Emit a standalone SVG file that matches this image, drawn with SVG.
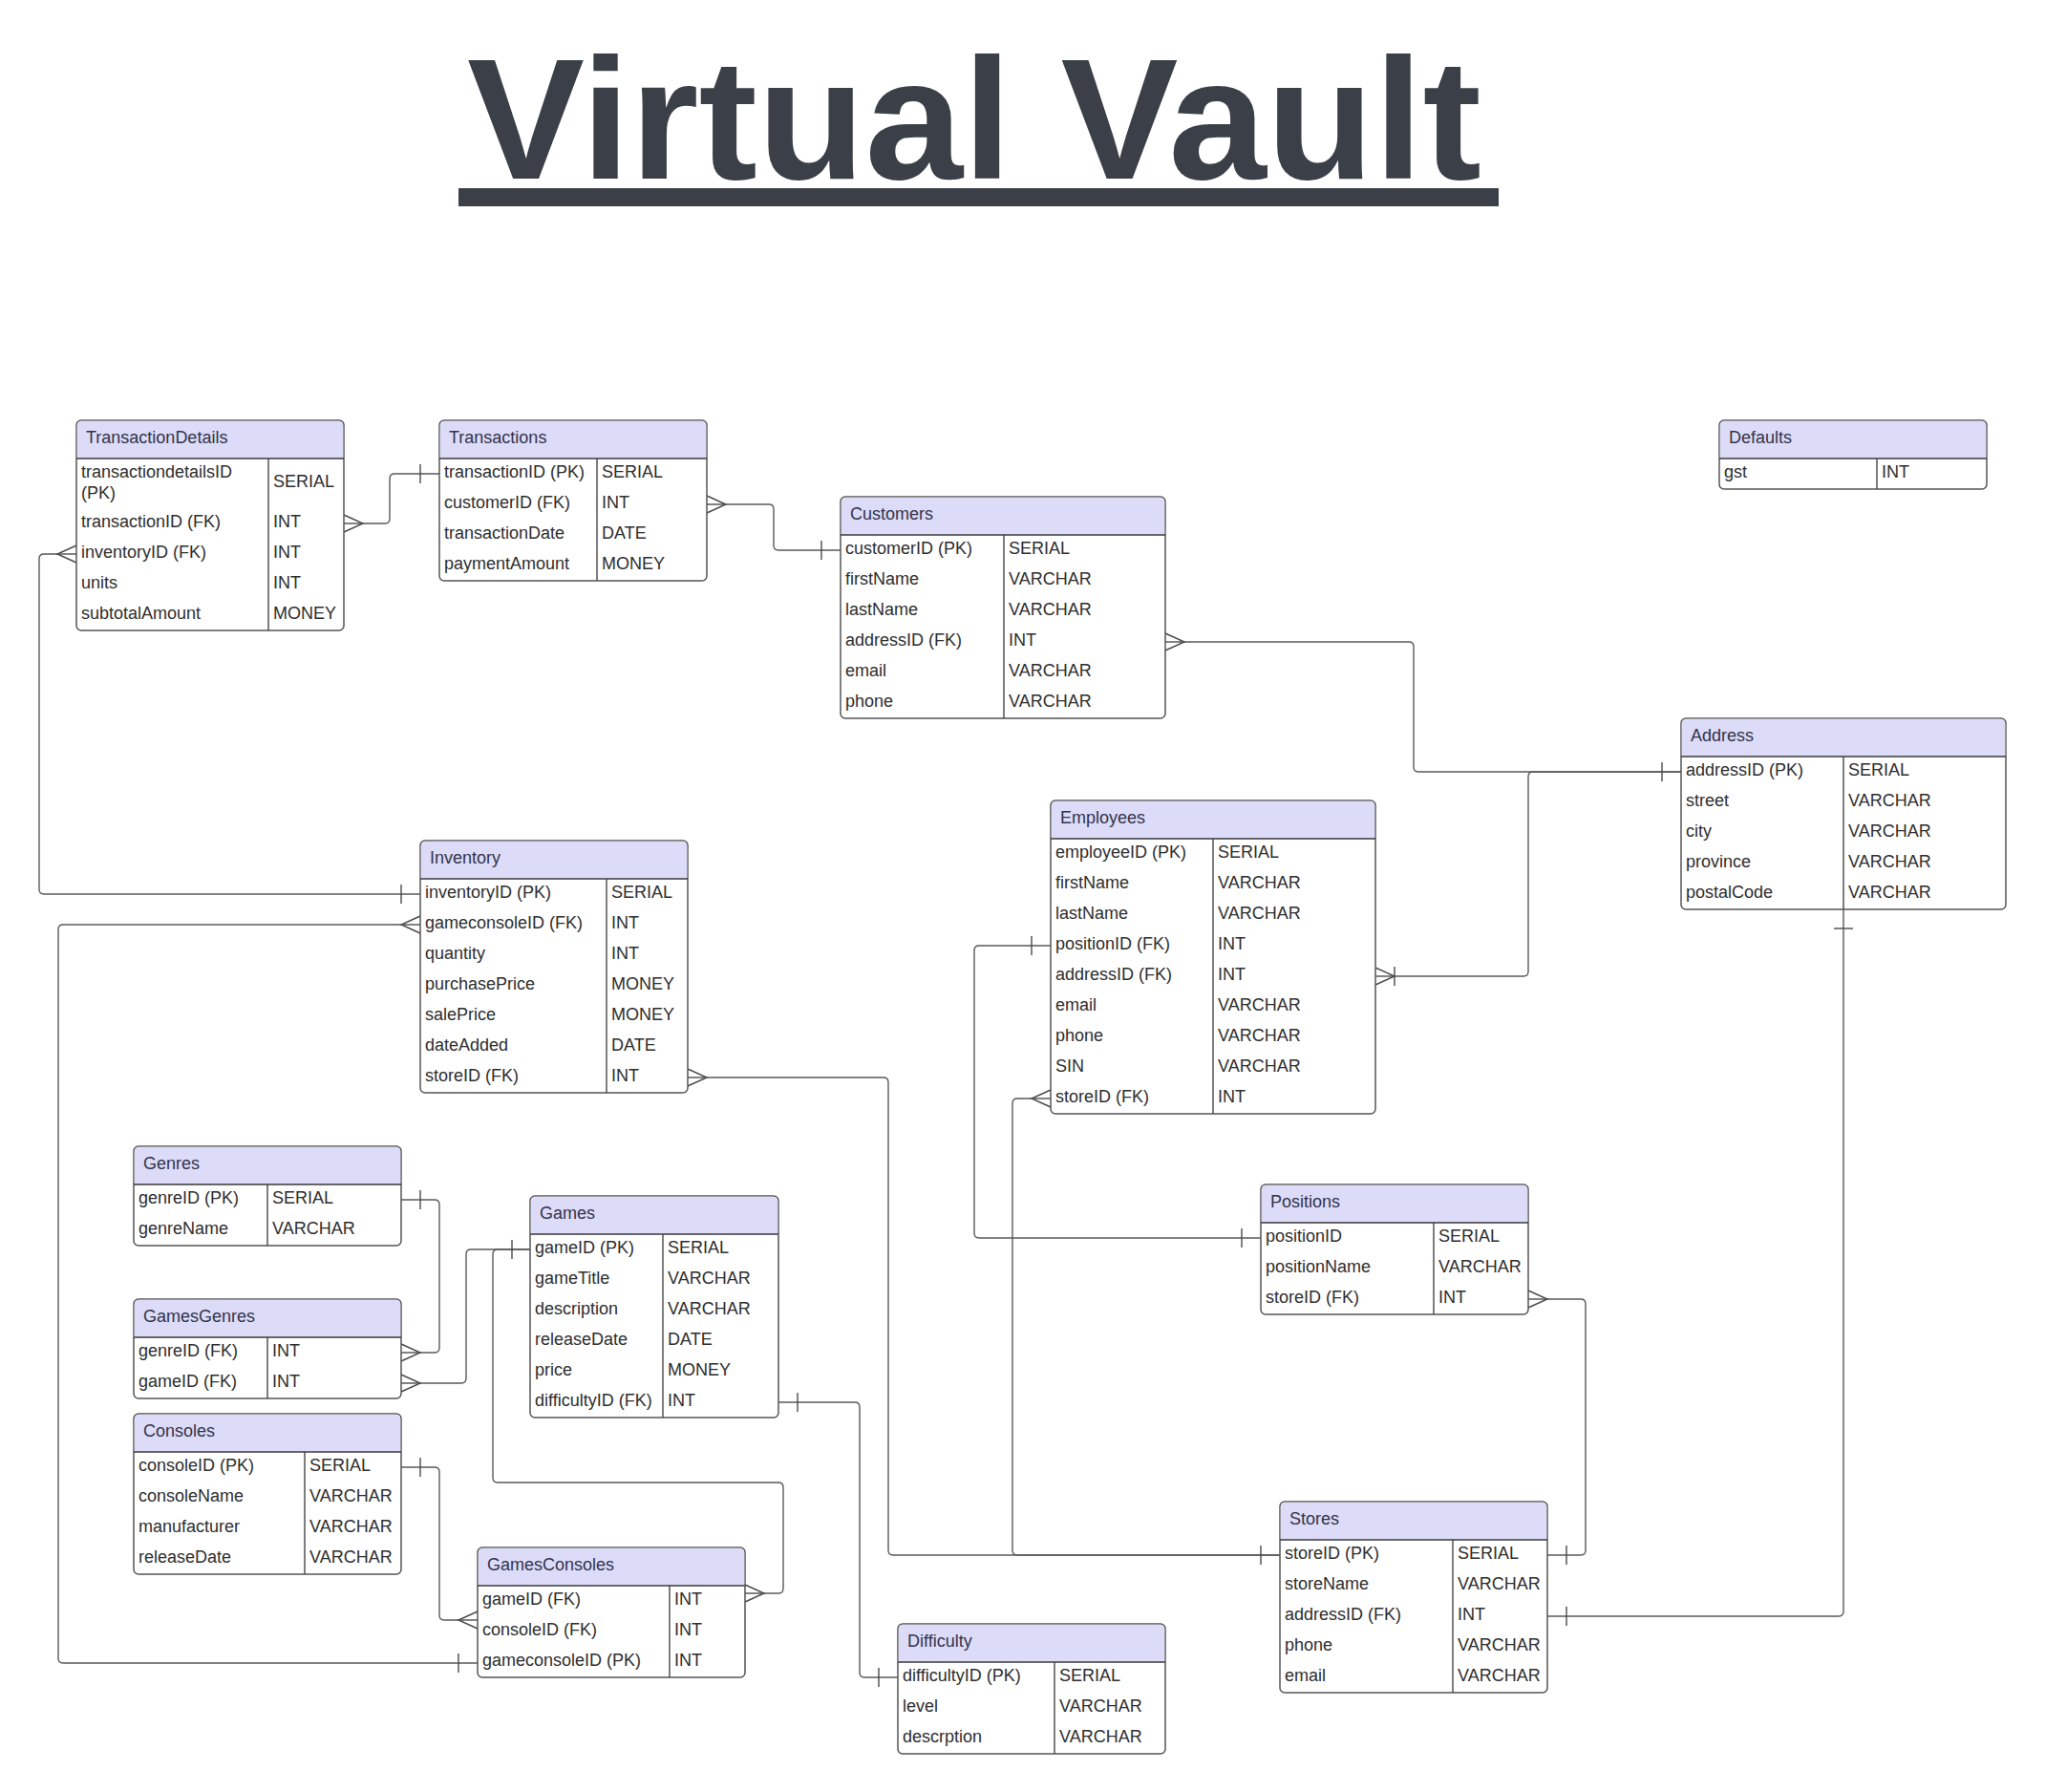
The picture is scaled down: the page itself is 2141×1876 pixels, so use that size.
<svg xmlns="http://www.w3.org/2000/svg" xmlns:xlink="http://www.w3.org/1999/xlink" width="2141" height="1876" viewBox="0 0 2141 1876">
<style>
.bx{fill:#fff;stroke:#555;stroke-width:1.5}
.hd{fill:#dcdcf9}
.sp{fill:none;stroke:#3a3a3a;stroke-width:1.3}
.t{font-family:"Liberation Sans",Arial,sans-serif;font-size:18px;fill:#2e2e2e}
.h{font-family:"Liberation Sans",Arial,sans-serif;font-size:18px;fill:#33334a}
.cn{fill:none;stroke:#5a5a5a;stroke-width:1.4}
.mk{fill:none;stroke:#4a4a4a;stroke-width:1.4}
</style>
<defs>
<path id="crow" d="M0,-9L20,0L0,9"/>
<path id="bar" d="M0,-10V10"/>
</defs>
<rect width="2141" height="1876" fill="#fff"/>
<g id="title">
<text x="489" y="187" textLength="1062" lengthAdjust="spacingAndGlyphs" style="font-family:'Liberation Sans',Arial,sans-serif;font-size:180px;font-weight:bold;fill:#3b3f48">Virtual Vault</text>
<rect x="480" y="197" width="1089" height="19" fill="#3b3f48"/>
</g>
<g id="connectors">
<path class="cn" d="M360,548H403Q408,548 408,543V501Q408,496 413,496H460"/>
<path class="cn" d="M740,528H805Q810,528 810,533V571Q810,576 815,576H880"/>
<path class="cn" d="M1220,672H1475Q1480,672 1480,677V803Q1480,808 1485,808H1760"/>
<path class="cn" d="M1440,1022H1595Q1600,1022 1600,1017V813Q1600,808 1605,808H1760"/>
<path class="cn" d="M1930,952V1687Q1930,1692 1925,1692H1620"/>
<path class="cn" d="M80,580H46Q41,580 41,585V931Q41,936 46,936H440"/>
<path class="cn" d="M440,968H66Q61,968 61,973V1736Q61,1741 66,1741H500"/>
<path class="cn" d="M720,1128H925Q930,1128 930,1133V1623Q930,1628 935,1628H1340"/>
<path class="cn" d="M1100,1150H1065Q1060,1150 1060,1155V1623Q1060,1628 1065,1628H1340"/>
<path class="cn" d="M1100,990H1025Q1020,990 1020,995V1291Q1020,1296 1025,1296H1320"/>
<path class="cn" d="M1600,1360H1655Q1660,1360 1660,1365V1623Q1660,1628 1655,1628H1620"/>
<path class="cn" d="M420,1256H455Q460,1256 460,1261V1411Q460,1416 455,1416H420"/>
<path class="cn" d="M555,1308H493Q488,1308 488,1313V1443Q488,1448 483,1448H420"/>
<path class="cn" d="M555,1308H521Q516,1308 516,1313V1547Q516,1552 521,1552H815Q820,1552 820,1557V1663Q820,1668 815,1668H780"/>
<path class="cn" d="M420,1536H455Q460,1536 460,1541V1691Q460,1696 465,1696H500"/>
<path class="cn" d="M815,1468H895Q900,1468 900,1473V1751Q900,1756 905,1756H940"/>
<use href="#crow" class="mk" transform="translate(360,548)"/>
<use href="#bar" class="mk" transform="translate(440,496)"/>
<use href="#crow" class="mk" transform="translate(740,528)"/>
<use href="#bar" class="mk" transform="translate(860,576)"/>
<use href="#crow" class="mk" transform="translate(1220,672)"/>
<use href="#bar" class="mk" transform="translate(1740,808)"/>
<use href="#crow" class="mk" transform="translate(1440,1022)"/>
<use href="#bar" class="mk" transform="translate(1460,1022)"/>
<use href="#bar" class="mk" transform="translate(1930,972) rotate(90)"/>
<use href="#bar" class="mk" transform="translate(1640,1692)"/>
<use href="#crow" class="mk" transform="translate(80,580) scale(-1,1)"/>
<use href="#bar" class="mk" transform="translate(420,936)"/>
<use href="#crow" class="mk" transform="translate(440,968) scale(-1,1)"/>
<use href="#bar" class="mk" transform="translate(480,1741)"/>
<use href="#crow" class="mk" transform="translate(720,1128)"/>
<use href="#bar" class="mk" transform="translate(1320,1628)"/>
<use href="#crow" class="mk" transform="translate(1100,1150) scale(-1,1)"/>
<use href="#bar" class="mk" transform="translate(1080,990)"/>
<use href="#bar" class="mk" transform="translate(1300,1296)"/>
<use href="#crow" class="mk" transform="translate(1600,1360)"/>
<use href="#bar" class="mk" transform="translate(1640,1628)"/>
<use href="#bar" class="mk" transform="translate(440,1256)"/>
<use href="#crow" class="mk" transform="translate(420,1416)"/>
<use href="#bar" class="mk" transform="translate(536,1308)"/>
<use href="#crow" class="mk" transform="translate(420,1448)"/>
<use href="#crow" class="mk" transform="translate(780,1668)"/>
<use href="#bar" class="mk" transform="translate(440,1536)"/>
<use href="#crow" class="mk" transform="translate(500,1696) scale(-1,1)"/>
<use href="#bar" class="mk" transform="translate(835,1468)"/>
<use href="#bar" class="mk" transform="translate(920,1756)"/>
</g>

<g id="TransactionDetails" transform="translate(80,440)">
<rect class="bx" width="280" height="220" rx="5"/>
<path class="hd" d="M0.75,40V5.5Q0.75,0.75 5.5,0.75H274.5Q279.25,0.75 279.25,5.5V40Z"/>
<path class="sp" d="M0,40H280M201,40V220"/>
<text class="h" x="10" y="24">TransactionDetails</text>
<text class="t" x="5" y="60">transactiondetailsID</text>
<text class="t" x="5" y="82">(PK)</text>
<text class="t" x="206" y="70">SERIAL</text>
<text class="t" x="5" y="112">transactionID (FK)</text><text class="t" x="206" y="112">INT</text>
<text class="t" x="5" y="144">inventoryID (FK)</text><text class="t" x="206" y="144">INT</text>
<text class="t" x="5" y="176">units</text><text class="t" x="206" y="176">INT</text>
<text class="t" x="5" y="208">subtotalAmount</text><text class="t" x="206" y="208">MONEY</text>
</g>

<g id="Transactions" transform="translate(460,440)">
<rect class="bx" width="280" height="168" rx="5"/>
<path class="hd" d="M0.75,40V5.5Q0.75,0.75 5.5,0.75H274.5Q279.25,0.75 279.25,5.5V40Z"/>
<path class="sp" d="M0,40H280M165,40V168"/>
<text class="h" x="10" y="24">Transactions</text>
<text class="t" x="5" y="60">transactionID (PK)</text><text class="t" x="170" y="60">SERIAL</text>
<text class="t" x="5" y="92">customerID (FK)</text><text class="t" x="170" y="92">INT</text>
<text class="t" x="5" y="124">transactionDate</text><text class="t" x="170" y="124">DATE</text>
<text class="t" x="5" y="156">paymentAmount</text><text class="t" x="170" y="156">MONEY</text>
</g>

<g id="Customers" transform="translate(880,520)">
<rect class="bx" width="340" height="232" rx="5"/>
<path class="hd" d="M0.75,40V5.5Q0.75,0.75 5.5,0.75H334.5Q339.25,0.75 339.25,5.5V40Z"/>
<path class="sp" d="M0,40H340M171,40V232"/>
<text class="h" x="10" y="24">Customers</text>
<text class="t" x="5" y="60">customerID (PK)</text><text class="t" x="176" y="60">SERIAL</text>
<text class="t" x="5" y="92">firstName</text><text class="t" x="176" y="92">VARCHAR</text>
<text class="t" x="5" y="124">lastName</text><text class="t" x="176" y="124">VARCHAR</text>
<text class="t" x="5" y="156">addressID (FK)</text><text class="t" x="176" y="156">INT</text>
<text class="t" x="5" y="188">email</text><text class="t" x="176" y="188">VARCHAR</text>
<text class="t" x="5" y="220">phone</text><text class="t" x="176" y="220">VARCHAR</text>
</g>

<g id="Defaults" transform="translate(1800,440)">
<rect class="bx" width="280" height="72" rx="5"/>
<path class="hd" d="M0.75,40V5.5Q0.75,0.75 5.5,0.75H274.5Q279.25,0.75 279.25,5.5V40Z"/>
<path class="sp" d="M0,40H280M165,40V72"/>
<text class="h" x="10" y="24">Defaults</text>
<text class="t" x="5" y="60">gst</text><text class="t" x="170" y="60">INT</text>
</g>

<g id="Address" transform="translate(1760,752)">
<rect class="bx" width="340" height="200" rx="5"/>
<path class="hd" d="M0.75,40V5.5Q0.75,0.75 5.5,0.75H334.5Q339.25,0.75 339.25,5.5V40Z"/>
<path class="sp" d="M0,40H340M170,40V200"/>
<text class="h" x="10" y="24">Address</text>
<text class="t" x="5" y="60">addressID (PK)</text><text class="t" x="175" y="60">SERIAL</text>
<text class="t" x="5" y="92">street</text><text class="t" x="175" y="92">VARCHAR</text>
<text class="t" x="5" y="124">city</text><text class="t" x="175" y="124">VARCHAR</text>
<text class="t" x="5" y="156">province</text><text class="t" x="175" y="156">VARCHAR</text>
<text class="t" x="5" y="188">postalCode</text><text class="t" x="175" y="188">VARCHAR</text>
</g>

<g id="Employees" transform="translate(1100,838)">
<rect class="bx" width="340" height="328" rx="5"/>
<path class="hd" d="M0.75,40V5.5Q0.75,0.75 5.5,0.75H334.5Q339.25,0.75 339.25,5.5V40Z"/>
<path class="sp" d="M0,40H340M170,40V328"/>
<text class="h" x="10" y="24">Employees</text>
<text class="t" x="5" y="60">employeeID (PK)</text><text class="t" x="175" y="60">SERIAL</text>
<text class="t" x="5" y="92">firstName</text><text class="t" x="175" y="92">VARCHAR</text>
<text class="t" x="5" y="124">lastName</text><text class="t" x="175" y="124">VARCHAR</text>
<text class="t" x="5" y="156">positionID (FK)</text><text class="t" x="175" y="156">INT</text>
<text class="t" x="5" y="188">addressID (FK)</text><text class="t" x="175" y="188">INT</text>
<text class="t" x="5" y="220">email</text><text class="t" x="175" y="220">VARCHAR</text>
<text class="t" x="5" y="252">phone</text><text class="t" x="175" y="252">VARCHAR</text>
<text class="t" x="5" y="284">SIN</text><text class="t" x="175" y="284">VARCHAR</text>
<text class="t" x="5" y="316">storeID (FK)</text><text class="t" x="175" y="316">INT</text>
</g>

<g id="Inventory" transform="translate(440,880)">
<rect class="bx" width="280" height="264" rx="5"/>
<path class="hd" d="M0.75,40V5.5Q0.75,0.75 5.5,0.75H274.5Q279.25,0.75 279.25,5.5V40Z"/>
<path class="sp" d="M0,40H280M195,40V264"/>
<text class="h" x="10" y="24">Inventory</text>
<text class="t" x="5" y="60">inventoryID (PK)</text><text class="t" x="200" y="60">SERIAL</text>
<text class="t" x="5" y="92">gameconsoleID (FK)</text><text class="t" x="200" y="92">INT</text>
<text class="t" x="5" y="124">quantity</text><text class="t" x="200" y="124">INT</text>
<text class="t" x="5" y="156">purchasePrice</text><text class="t" x="200" y="156">MONEY</text>
<text class="t" x="5" y="188">salePrice</text><text class="t" x="200" y="188">MONEY</text>
<text class="t" x="5" y="220">dateAdded</text><text class="t" x="200" y="220">DATE</text>
<text class="t" x="5" y="252">storeID (FK)</text><text class="t" x="200" y="252">INT</text>
</g>

<g id="Genres" transform="translate(140,1200)">
<rect class="bx" width="280" height="104" rx="5"/>
<path class="hd" d="M0.75,40V5.5Q0.75,0.75 5.5,0.75H274.5Q279.25,0.75 279.25,5.5V40Z"/>
<path class="sp" d="M0,40H280M140,40V104"/>
<text class="h" x="10" y="24">Genres</text>
<text class="t" x="5" y="60">genreID (PK)</text><text class="t" x="145" y="60">SERIAL</text>
<text class="t" x="5" y="92">genreName</text><text class="t" x="145" y="92">VARCHAR</text>
</g>

<g id="Games" transform="translate(555,1252)">
<rect class="bx" width="260" height="232" rx="5"/>
<path class="hd" d="M0.75,40V5.5Q0.75,0.75 5.5,0.75H254.5Q259.25,0.75 259.25,5.5V40Z"/>
<path class="sp" d="M0,40H260M139,40V232"/>
<text class="h" x="10" y="24">Games</text>
<text class="t" x="5" y="60">gameID (PK)</text><text class="t" x="144" y="60">SERIAL</text>
<text class="t" x="5" y="92">gameTitle</text><text class="t" x="144" y="92">VARCHAR</text>
<text class="t" x="5" y="124">description</text><text class="t" x="144" y="124">VARCHAR</text>
<text class="t" x="5" y="156">releaseDate</text><text class="t" x="144" y="156">DATE</text>
<text class="t" x="5" y="188">price</text><text class="t" x="144" y="188">MONEY</text>
<text class="t" x="5" y="220">difficultyID (FK)</text><text class="t" x="144" y="220">INT</text>
</g>

<g id="GamesGenres" transform="translate(140,1360)">
<rect class="bx" width="280" height="104" rx="5"/>
<path class="hd" d="M0.75,40V5.5Q0.75,0.75 5.5,0.75H274.5Q279.25,0.75 279.25,5.5V40Z"/>
<path class="sp" d="M0,40H280M140,40V104"/>
<text class="h" x="10" y="24">GamesGenres</text>
<text class="t" x="5" y="60">genreID (FK)</text><text class="t" x="145" y="60">INT</text>
<text class="t" x="5" y="92">gameID (FK)</text><text class="t" x="145" y="92">INT</text>
</g>

<g id="Consoles" transform="translate(140,1480)">
<rect class="bx" width="280" height="168" rx="5"/>
<path class="hd" d="M0.75,40V5.5Q0.75,0.75 5.5,0.75H274.5Q279.25,0.75 279.25,5.5V40Z"/>
<path class="sp" d="M0,40H280M179,40V168"/>
<text class="h" x="10" y="24">Consoles</text>
<text class="t" x="5" y="60">consoleID (PK)</text><text class="t" x="184" y="60">SERIAL</text>
<text class="t" x="5" y="92">consoleName</text><text class="t" x="184" y="92">VARCHAR</text>
<text class="t" x="5" y="124">manufacturer</text><text class="t" x="184" y="124">VARCHAR</text>
<text class="t" x="5" y="156">releaseDate</text><text class="t" x="184" y="156">VARCHAR</text>
</g>

<g id="GamesConsoles" transform="translate(500,1620)">
<rect class="bx" width="280" height="136" rx="5"/>
<path class="hd" d="M0.75,40V5.5Q0.75,0.75 5.5,0.75H274.5Q279.25,0.75 279.25,5.5V40Z"/>
<path class="sp" d="M0,40H280M201,40V136"/>
<text class="h" x="10" y="24">GamesConsoles</text>
<text class="t" x="5" y="60">gameID (FK)</text><text class="t" x="206" y="60">INT</text>
<text class="t" x="5" y="92">consoleID (FK)</text><text class="t" x="206" y="92">INT</text>
<text class="t" x="5" y="124">gameconsoleID (PK)</text><text class="t" x="206" y="124">INT</text>
</g>

<g id="Difficulty" transform="translate(940,1700)">
<rect class="bx" width="280" height="136" rx="5"/>
<path class="hd" d="M0.75,40V5.5Q0.75,0.75 5.5,0.75H274.5Q279.25,0.75 279.25,5.5V40Z"/>
<path class="sp" d="M0,40H280M164,40V136"/>
<text class="h" x="10" y="24">Difficulty</text>
<text class="t" x="5" y="60">difficultyID (PK)</text><text class="t" x="169" y="60">SERIAL</text>
<text class="t" x="5" y="92">level</text><text class="t" x="169" y="92">VARCHAR</text>
<text class="t" x="5" y="124">descrption</text><text class="t" x="169" y="124">VARCHAR</text>
</g>

<g id="Positions" transform="translate(1320,1240)">
<rect class="bx" width="280" height="136" rx="5"/>
<path class="hd" d="M0.75,40V5.5Q0.75,0.75 5.5,0.75H274.5Q279.25,0.75 279.25,5.5V40Z"/>
<path class="sp" d="M0,40H280M181,40V136"/>
<text class="h" x="10" y="24">Positions</text>
<text class="t" x="5" y="60">positionID</text><text class="t" x="186" y="60">SERIAL</text>
<text class="t" x="5" y="92">positionName</text><text class="t" x="186" y="92">VARCHAR</text>
<text class="t" x="5" y="124">storeID (FK)</text><text class="t" x="186" y="124">INT</text>
</g>

<g id="Stores" transform="translate(1340,1572)">
<rect class="bx" width="280" height="200" rx="5"/>
<path class="hd" d="M0.75,40V5.5Q0.75,0.75 5.5,0.75H274.5Q279.25,0.75 279.25,5.5V40Z"/>
<path class="sp" d="M0,40H280M181,40V200"/>
<text class="h" x="10" y="24">Stores</text>
<text class="t" x="5" y="60">storeID (PK)</text><text class="t" x="186" y="60">SERIAL</text>
<text class="t" x="5" y="92">storeName</text><text class="t" x="186" y="92">VARCHAR</text>
<text class="t" x="5" y="124">addressID (FK)</text><text class="t" x="186" y="124">INT</text>
<text class="t" x="5" y="156">phone</text><text class="t" x="186" y="156">VARCHAR</text>
<text class="t" x="5" y="188">email</text><text class="t" x="186" y="188">VARCHAR</text>
</g>
</svg>
